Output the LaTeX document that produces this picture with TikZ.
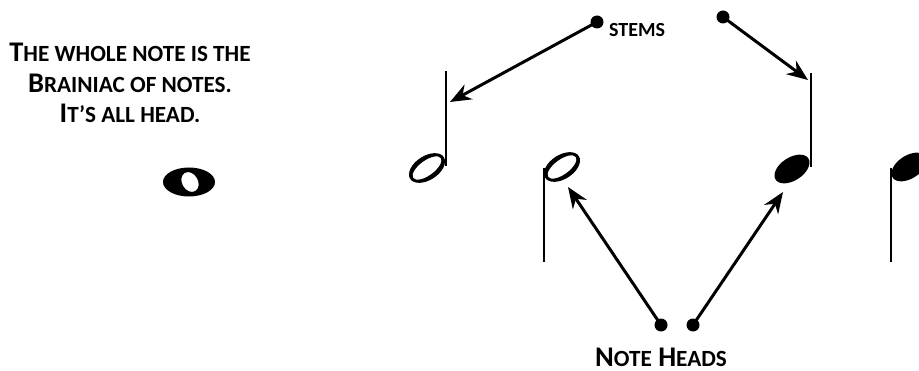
\documentclass[tikz,border=0pt]{standalone}
\usepackage{fontspec}
\setmainfont{Carlito}
\usetikzlibrary{arrows.meta}

% fake small caps: capitals at a smaller size
\newcommand{\smc}[1]{{\fontsize{13.2}{16}\selectfont #1}}

\tikzset{
    pointer/.style={line width=1.7pt,-{Stealth[length=12pt,width=9.5pt]}},
    pinhead/.style={fill=black},
    stemline/.style={line width=1.1pt},
    caption/.style={font=\fontsize{16.2}{15}\selectfont\bfseries,align=center,inner sep=0pt},
}

\begin{document}
\begin{tikzpicture}[x=0.02cm,y=-0.02cm]
    \useasboundingbox (0,0) rectangle (919,371);
    \clip (0,0) rectangle (919,371);

    % left text and the whole note
    \node[caption] (brainiac) at (130,83)
        {T\smc{HE WHOLE NOTE IS THE}\\[2.5pt]
         B\smc{RAINIAC OF NOTES.}\\[2.5pt]
         I\smc{T’S ALL HEAD.}};
    \fill[even odd rule] (189,182) circle[x radius=26,y radius=14.5]
        (190,182) circle[x radius=10.5,y radius=8,rotate=-60];

    % half note, stem up
    \fill[even odd rule] (427,168) circle[x radius=20,y radius=12,rotate=33]
        (427,168) circle[x radius=17,y radius=7.5,rotate=36];
    \draw[stemline] (446,71) -- (446,166);

    % half note, stem down
    \fill[even odd rule] (562,167) circle[x radius=20,y radius=12,rotate=33]
        (562,167) circle[x radius=17,y radius=7.5,rotate=36];
    \draw[stemline] (544,168) -- (544,262);

    % quarter note, stem up
    \fill (792,169) circle[x radius=19.5,y radius=11.5,rotate=33];
    \draw[stemline] (811,73) -- (811,167);

    % quarter note, stem down (cut off at the right edge)
    \fill (909,167) circle[x radius=19.5,y radius=11.5,rotate=33];
    \draw[stemline] (891,168) -- (891,262);

    % labels
    \node[caption,font=\fontsize{11.4}{14}\selectfont\bfseries] (stems) at (637,30) {STEMS};
    \node[caption] (heads) at (661,357) {N\smc{OTE} H\smc{EADS}};

    % pin ends and arrow targets
    \coordinate (stemdotL) at (597,22);
    \coordinate (stemdotR) at (723,17);
    \coordinate (headdotL) at (661,325);
    \coordinate (headdotR) at (693,325);
    \coordinate (stemL) at (450,102);
    \coordinate (stemR) at (808,80);
    \coordinate (headL) at (568,187);
    \coordinate (headR) at (783,192);

    \foreach \p in {stemdotL,stemdotR,headdotL,headdotR}
        \fill[pinhead] (\p) circle[radius=6.5];

    \draw[pointer] (stemdotL) -- (stemL);
    \draw[pointer] (stemdotR) -- (stemR);
    \draw[pointer] (headdotL) -- (headL);
    \draw[pointer] (headdotR) -- (headR);
\end{tikzpicture}
\end{document}
